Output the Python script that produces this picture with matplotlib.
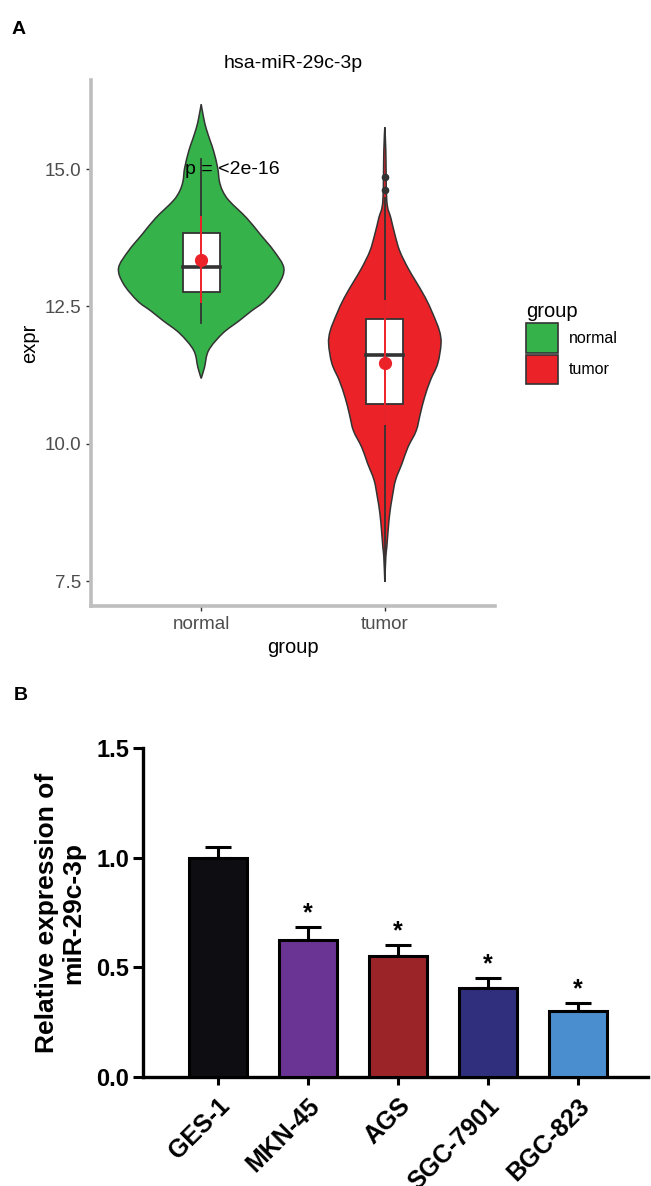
import numpy as np
import matplotlib
matplotlib.use("Agg")
import matplotlib.pyplot as plt
from matplotlib.patches import Patch, Rectangle, PathPatch
from matplotlib.path import Path

plt.rcParams['font.family'] = ['Liberation Sans', 'DejaVu Sans']

# ---------------- Panel A data ----------------
groups = ["normal", "tumor"]
group_colors = ["#35B24A", "#EC2229"]

# violin outline: expression value and relative density (half-width)
normal_expr = [16.18, 15.93, 15.74, 15.51, 15.33, 15.02, 14.78, 14.60, 14.42, 14.11,
               13.82, 13.51, 13.20, 12.91, 12.60, 12.42, 12.24, 12.01, 11.70, 11.39, 11.19]
normal_dens = [0.0, 0.03, 0.06, 0.11, 0.15, 0.20, 0.22, 0.26, 0.34, 0.55,
               0.71, 0.88, 1.00, 0.94, 0.77, 0.61, 0.46, 0.26, 0.09, 0.04, 0.0]
tumor_expr = [15.76, 15.33, 14.42, 14.11, 13.82, 13.51, 13.20, 12.97, 12.66, 12.37,
              12.06, 11.82, 11.46, 11.15, 10.84, 10.55, 10.24, 9.94, 9.65, 9.34,
              9.03, 8.74, 8.43, 8.12, 7.94, 7.49]
tumor_dens = [0.0, 0.012, 0.024, 0.073, 0.12, 0.18, 0.28, 0.37, 0.49, 0.58,
              0.66, 0.68, 0.64, 0.55, 0.48, 0.43, 0.38, 0.28, 0.21, 0.13,
              0.09, 0.06, 0.04, 0.024, 0.012, 0.0]

# boxplot stats: whisker low, q1, median, q3, whisker high
normal_box = [12.19, 12.77, 13.22, 13.84, 15.18]
tumor_box = [7.55, 10.72, 11.61, 12.28, 14.47]
tumor_outliers = [14.62, 14.85]
group_mean = [13.35, 11.48]
group_sd = [0.77, 1.12]
p_label = "p = <2e-16"
title_a = "hsa-miR-29c-3p"

# ---------------- Panel B data ----------------
cell_lines = ["GES-1", "MKN-45", "AGS", "SGC-7901", "BGC-823"]
rel_expr = [1.00, 0.625, 0.552, 0.406, 0.300]
rel_err = [0.05, 0.06, 0.05, 0.046, 0.038]
significant = [False, True, True, True, True]
bar_colors = ["#0E0D12", "#6A3494", "#9B2428", "#302F7E", "#4A8ED0"]

W, H = 651, 1186
fig = plt.figure(figsize=(W / 100, H / 100), dpi=100)

def fx(px):
    return px / W

def fy(py):
    return 1 - py / H


def smooth_side(xs, ys):
    """Catmull-Rom curve through the outline points, as Bezier segments."""
    P = np.column_stack([xs, ys])
    P = np.vstack([P[0], P, P[-1]])
    verts, codes = [], []
    for i in range(1, len(P) - 2):
        p0, p1, p2, p3 = P[i - 1], P[i], P[i + 1], P[i + 2]
        c1 = p1 + (p2 - p0) / 6.0
        c2 = p2 - (p3 - p1) / 6.0
        if not verts:
            verts.append(p1)
            codes.append(Path.MOVETO)
        verts += [c1, c2, p2]
        codes += [Path.CURVE4] * 3
    return verts, codes


# ---------------- Panel A ----------------
axA = fig.add_axes([fx(91), fy(606), fx(495) - fx(91), fy(80) - fy(606)])
axA.set_xlim(0.4, 2.6)
axA.set_ylim(7.05, 16.62)
maxhw = 0.45
outline = "#333333"
violins = [(normal_expr, normal_dens), (tumor_expr, tumor_dens)]
boxes = [normal_box, tumor_box]
for i, (ex, de) in enumerate(violins):
    xc = i + 1
    ex = np.array(ex)
    hw = np.array(de) * maxhw
    v1, c1 = smooth_side(xc + hw, ex)
    v2, c2 = smooth_side((xc - hw)[::-1], ex[::-1])
    c2[0] = Path.LINETO
    verts = v1 + v2 + [v1[0]]
    codes = c1 + c2 + [Path.CLOSEPOLY]
    axA.add_patch(PathPatch(Path(verts, codes), facecolor=group_colors[i],
                            edgecolor=outline, linewidth=1.1, zorder=2))
    b = boxes[i]
    bw = 0.1
    axA.plot([xc, xc], [b[3], b[4]], color=outline, lw=1.3, zorder=3)
    axA.plot([xc, xc], [b[0], b[1]], color=outline, lw=1.3, zorder=3)
    axA.add_patch(Rectangle((xc - bw, b[1]), 2 * bw, b[3] - b[1], facecolor="white",
                            edgecolor=outline, lw=1.3, zorder=3))
    axA.plot([xc - bw, xc + bw], [b[2], b[2]], color=outline, lw=2.6, zorder=4)
    axA.plot([xc, xc], [group_mean[i] - group_sd[i], group_mean[i] + group_sd[i]],
             color="#EC2229", lw=1.4, zorder=5)
    axA.plot([xc], [group_mean[i]], "o", color="#EC2229", ms=8.5, zorder=6)
axA.plot([2] * len(tumor_outliers), tumor_outliers, "o", color=outline, ms=4.5, zorder=6)

axA.text(0.91, 15.0, p_label, fontsize=14, ha="left", va="center", color="black", zorder=7)
axA.set_title(title_a, fontsize=14, pad=9, color="black")
axA.set_xticks([1, 2])
axA.set_xticklabels(groups)
axA.set_yticks([7.5, 10.0, 12.5, 15.0])
axA.set_yticklabels(["7.5", "10.0", "12.5", "15.0"])
axA.tick_params(labelsize=13.5, labelcolor="#4D4D4D", color="#333333", length=3.5, width=1.0)
for s in ["top", "right"]:
    axA.spines[s].set_visible(False)
for s in ["left", "bottom"]:
    axA.spines[s].set_color("#BEBEBE")
    axA.spines[s].set_linewidth(2.6)
axA.set_xlabel("group", fontsize=14.5, labelpad=4)
axA.set_ylabel("expr", fontsize=14.5, labelpad=4)

handles = [Patch(facecolor=group_colors[k], edgecolor=outline, lw=1.2, label=groups[k]) for k in range(2)]
leg = fig.legend(handles=handles, title="group", loc="upper left",
                 bbox_to_anchor=(fx(512), fy(288)), frameon=False, fontsize=11.5,
                 title_fontsize=14.5, handlelength=1.95, handleheight=2.45,
                 labelspacing=0.12, handletextpad=0.7, alignment="left")

fig.text(fx(12), fy(30), "A", fontsize=14, fontweight="bold", va="center", ha="left")

# ---------------- Panel B ----------------
axB = fig.add_axes([fx(143), fy(1077), fx(648) - fx(143), fy(748) - fy(1077)])
x = np.arange(len(cell_lines))
axB.bar(x, rel_expr, width=0.65, color=bar_colors, edgecolor="black", linewidth=2.2, zorder=3)
axB.errorbar(x, rel_expr, yerr=[np.zeros(len(x)), rel_err], fmt="none", ecolor="black",
             elinewidth=2.2, capsize=9.5, capthick=2.2, zorder=2)
for xi, v, e, sig in zip(x, rel_expr, rel_err, significant):
    if sig:
        axB.text(xi, v + e + 0.008, "*", ha="center", va="bottom", fontsize=18,
                 fontweight="bold")
axB.set_xlim(-0.833, 4.78)
axB.set_ylim(0, 1.5)
axB.set_yticks([0.0, 0.5, 1.0, 1.5])
axB.set_yticklabels(["0.0", "0.5", "1.0", "1.5"])
axB.set_xticks(x)
axB.set_xticklabels(cell_lines, rotation=45, ha="right", va="top", rotation_mode="anchor")
for lab in axB.get_xticklabels() + axB.get_yticklabels():
    lab.set_fontweight("bold")
axB.tick_params(axis="y", labelsize=17, length=7, width=2.2, pad=3)
axB.tick_params(axis="x", labelsize=18, length=6, width=2.2, pad=6)
for s in ["top", "right"]:
    axB.spines[s].set_visible(False)
for s in ["left", "bottom"]:
    axB.spines[s].set_linewidth(2.4)
    axB.spines[s].set_color("black")
axB.set_ylabel("Relative expression of\nmiR-29c-3p", fontsize=19, fontweight="bold",
               labelpad=8, linespacing=1.1)

fig.text(fx(14), fy(695), "B", fontsize=14, fontweight="bold", va="center", ha="left")

fig.savefig("out.png", dpi=100)
